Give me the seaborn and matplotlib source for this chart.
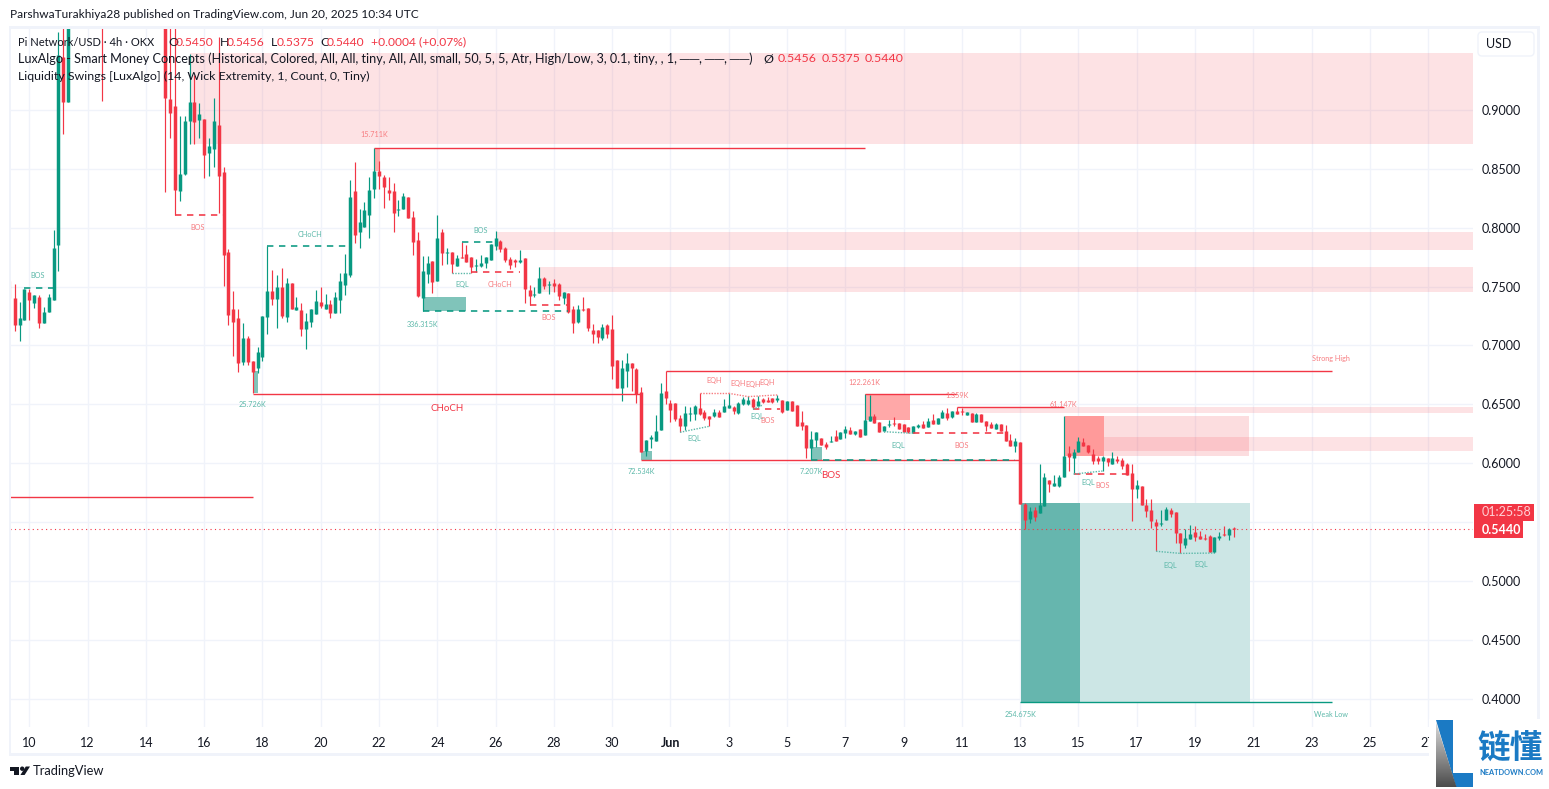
import numpy as np
import pandas as pd
import matplotlib
matplotlib.use('Agg')
import matplotlib.pyplot as plt
from matplotlib.patches import Polygon, Rectangle, FancyBboxPatch, Circle
import seaborn as sns

W, H = 1549, 789
RED = '#f23645'
GREEN = '#089981'
RED_SOFT = '#f77c80'
GREEN_SOFT = '#5cb8a9'
TXT = '#131722'

# 4h candles, bar number counted from May 10 00:00 (bars above the visible range are left out)
bars = list(range(-3, 9)) + [15] + list(range(28, 249))

opens = [.740, .717, .722, .745, .736, .741, .719, .728, .739, .785, .945, .907, 1.02,
         1.0, .9094, .9034, .8315, .8457, .8907, .9068, .8915, .8921, .8632,
         .8669, .8873, .8474, .7793, .7309, .7233, .6859, .7063, .6868, .6808,
         .6902, .7241, .7462, .7394, .7496, .7241, .753, .73, .73, .7139,
         .7199, .7267, .7369, .7309, .7352, .7275, .7386, .7513, .7598, .8312,
         .7963, .8006, .8108, .8329, .8482, .8431, .832, .8312, .815, .8159,
         .8261, .8091, .7895, .7403, .7607, .7717, .7547, .7963, .7785, .7793,
         .7675, .775, .7776, .775, .7675, .7675, .77, .7725, .7844, .7887,
         .7827, .7734, .7725, .7708, .7742, .747, .7428, .7445, .7573, .7513,
         .753, .7522, .7403, .7445, .7309, .7199, .7309, .7318, .7131, .7131,
         .7063, .7173, .7139, .6876, .6638, .6782, .685, .6799, .6604, .6103,
         .6205, .6188, .6281, .6613, .6511, .6511, .6383, .6315, .6417, .6417,
         .6468, .6434, .64, .64, .6434, .6434, .6468, .6477, .6426, .6502,
         .6502, .6545, .6485, .6545, .6536, .6553, .6536, .6536, .6451, .6528,
         .6494, .6349, .6324, .6128, .6196, .6213, .6162, .6179, .623, .6205,
         .6256, .6281, .6247, .629, .6239, .6358, .64, .6349, .6273, .6324,
         .6341, .6341, .6332, .6307, .6256, .6307, .6332, .6307, .6366, .6332,
         .6383, .6426, .6392, .6443, .6443, .6409, .6426, .6349, .6417, .6358,
         .6332, .629, .6332, .6273, .6196, .6145, .6179, .5652, .5525, .5601,
         .5576, .5635, .5856, .5805, .5805, .5882, .6086, .6043, .6094, .6179,
         .6154, .6077, .6043, .6018, .6043, .5992, .6035, .6026, .5992, .5916,
         .578, .5805, .5644, .5601, .55, .5483, .5517, .5601, .5584, .5406,
         .5304, .5355, .5415, .5381, .5364, .5381, .5245, .5364, .5398, .5389, .545]

highs = [.752, .737, .748, .748, .743, .743, .733, .744, .798, .966, 1.0, 1.05, 1.05,
         1.02, 1.0, .98, .8949, .895, .948, .93, .9057, .8921, .8765,
         .9102, .9618, .8519, .7819, .7462, .7309, .719, .708, .6868, .6987,
         .725, .7844, .764, .7598, .7657, .7572, .753, .7411, .736, .7275,
         .7309, .7471, .7496, .7437, .7386, .7454, .7612, .7774, .8405, .8558,
         .8159, .8218, .8431, .8674, .8567, .8448, .8431, .838, .8235, .8295,
         .8261, .8142, .7963, .7759, .7759, .7717, .8108, .7989, .7827, .7793,
         .7768, .7878, .7853, .775, .7734, .7768, .775, .7861, .7972, .7895,
         .7836, .775, .7734, .781, .7742, .7513, .7496, .7666, .7581, .7547,
         .7564, .753, .7454, .7445, .7335, .7343, .7411, .7318, .7182, .7131,
         .7182, .7182, .7258, .6876, .6876, .6935, .685, .6808, .6646, .6196,
         .6239, .6409, .6678, .6785, .6536, .6511, .6409, .6485, .6477, .6494,
         .6593, .6451, .64, .646, .6451, .6545, .6593, .6485, .6519, .6562,
         .657, .6553, .657, .6553, .6562, .6553, .6579, .6536, .6528, .6528,
         .6494, .6443, .6324, .6273, .6264, .6213, .6179, .623, .6281, .6264,
         .6315, .6307, .6273, .629, .6587, .6579, .6417, .6349, .6315, .6366,
         .6392, .6341, .6332, .6307, .6315, .6332, .6358, .6383, .6417, .6383,
         .6451, .6468, .6443, .6477, .6468, .6434, .6426, .6426, .6417, .6358,
         .635, .634, .6332, .6324, .6247, .6213, .6179, .5658, .5627, .5627,
         .5992, .5916, .5856, .5899, .5895, .64, .6145, .612, .6222, .6213,
         .6154, .612, .606, .606, .6043, .6094, .6060, .6043, .5999, .5992,
         .5856, .5805, .5695, .5695, .5525, .5601, .5627, .5618, .5584, .5406,
         .544, .5474, .5466, .5423, .5398, .539, .5372, .5415, .5466, .5449, .5456]

lows = [.712, .704, .722, .722, .732, .715, .719, .728, .739, .763, .880, .907, .908,
        .830, .8765, .8108, .8227, .845, .871, .871, .8765, .8426, .8443,
        .8519, .8123, .7505, .7173, .691, .6774, .6834, .6834, .6593, .6763,
        .6868, .7097, .7343, .7148, .7233, .7199, .7309, .73, .708, .697,
        .7156, .7267, .7318, .7309, .7233, .7275, .7278, .7428, .7584, .7867,
        .7827, .8006, .7912, .8252, .8329, .8167, .8235, .7963, .8099, .8159,
        .8082, .7768, .7411, .7292, .753, .7445, .7547, .7683, .7692, .7612,
        .7675, .7742, .7708, .7618, .7624, .7666, .7658, .7725, .781, .7793,
        .7708, .7649, .7666, .77, .736, .7343, .7411, .7445, .7479, .7437,
        .7454, .7386, .7352, .7275, .7105, .719, .7292, .7122, .702, .702,
        .7046, .7063, .6714, .6638, .6528, .6646, .6612, .651, .6094, .606,
        .6128, .6188, .6281, .6502, .6352, .6358, .6264, .6281, .6358, .6366,
        .6406, .6366, .6315, .6392, .6392, .6434, .6468, .6417, .6417, .6494,
        .6494, .6457, .6477, .6511, .6519, .6511, .6519, .6427, .6451, .6443,
        .6315, .6281, .6043, .6026, .6137, .6154, .612, .6179, .6188, .6205,
        .6213, .6247, .6239, .6222, .6239, .6358, .6341, .6264, .6264, .6307,
        .6315, .629, .6264, .6256, .6256, .6298, .6298, .6307, .6332, .6332,
        .6383, .6366, .6383, .6417, .6409, .6409, .6349, .6349, .6349, .6273,
        .6298, .629, .6273, .6188, .6145, .6094, .5652, .5437, .5491, .5508,
        .5576, .5635, .5754, .5805, .5797, .5882, .5933, .5907, .6094, .6145,
        .6086, .5992, .5992, .5933, .5975, .5992, .6001, .595, .5899, .5508,
        .5703, .5644, .5542, .5449, .5253, .5466, .5517, .5542, .5321, .5236,
        .5279, .5355, .5338, .5355, .5347, .5245, .5234, .5347, .5381, .5347, .5375]

closes = [.717, .723, .748, .739, .743, .719, .728, .741, .783, .947, .907, 1.02, 1.0,
          .910, .8972, .8321, .8457, .8907, .9068, .8898, .8967, .8618, .8695,
          .8907, .8443, .7768, .7258, .7199, .6851, .7063, .6859, .6774, .6944,
          .725, .7462, .7394, .7496, .725, .753, .7309, .7326, .7139, .7207,
          .7309, .7377, .7335, .7352, .7275, .7411, .7547, .7612, .8261, .7938,
          .8048, .815, .832, .8482, .8439, .8346, .8295, .8125, .8159, .8269,
          .8082, .7878, .742, .7632, .77, .7539, .7912, .7785, .7793, .7692,
          .7742, .7742, .7708, .7666, .7683, .77, .775, .7861, .7912, .7819,
          .7725, .7683, .7708, .7725, .7479, .742, .7437, .7573, .7505, .7522,
          .7505, .742, .7454, .7284, .719, .7309, .73, .7148, .7097, .7071,
          .7156, .7097, .6825, .6638, .6808, .685, .6808, .6587, .6094, .6196,
          .6222, .6273, .6599, .6553, .6451, .6375, .6315, .6426, .6426, .6485,
          .6417, .6383, .6375, .6434, .6392, .6485, .6494, .6443, .6511, .6545,
          .6536, .6477, .6528, .6519, .6519, .6519, .6553, .6434, .6528, .6443,
          .6315, .6315, .6128, .6205, .6264, .6154, .6137, .6188, .6188, .6264,
          .629, .6247, .6273, .6222, .6366, .64, .6341, .6264, .6315, .6332,
          .6332, .629, .6264, .6264, .6315, .6324, .6298, .6358, .6332, .6383,
          .6434, .6383, .6443, .6417, .6434, .6434, .6349, .6417, .6349, .6315,
          .6298, .6332, .6273, .6188, .6145, .6188, .5652, .5517, .5593, .5542,
          .5644, .5882, .5822, .583, .5882, .606, .6052, .6094, .6188, .6145,
          .6094, .6018, .6018, .6052, .6009, .6043, .6018, .5975, .5899, .578,
          .5814, .5644, .5593, .5508, .5466, .5491, .561, .5568, .5406, .5321,
          .5364, .5398, .5372, .5355, .5355, .5245, .5372, .5381, .5389, .544, .544]

# shaded zones: start bar, end bar, low, high, colour (translucent ones let the grid show)
PINK = '#f2364524'
zone_start = [33, 96.3, 105, 192, 221.3, 213.2, 221.3, 172, 71.2, 46, 81.1, 126, 161, 204.1, 216.3]
zone_end = [297.3, 297.3, 297.3, 297.3, 297.3, 221.3, 251.2, 181.3, 72.2, 47, 90, 128.2, 163.2, 216.3, 251.3]
zone_low = [.8712, .7811, .7454, .6425, .6105, .606, .606, .6366, .8485, .6593, .7292, .6026, .6026, .397, .397]
zone_high = [.9484, .7964, .7666, .6475, .6222, .6397, .6397, .6587, .8675, .6783, .7411, .6103, .6137, .566, .566]
zone_color = [PINK, PINK, PINK, PINK, PINK, '#ff9a9a', '#f236452b', '#ffa8a8',
              '#ffa8a8', '#80c4ba', '#80c4ba', '#80c4ba', '#80c4ba', '#66b6ae', '#cce6e5']

# solid swing lines
solid_start = [71, 172, 191.1, 131.1, 46, 126, 204, -3.9]
solid_end = [172, 191.1, 213, 268.2, 125.7, 204, 268.2, 46]
solid_price = [.8674, .6587, .6474, .6783, .6591, .6023, .397, .5708]
solid_color = [RED, RED, RED, RED, RED, RED, GREEN, RED]

# dashed structure lines
dash_start = [-1, 30, 49, 81, 89, 91, 103, 149, 182, 215, 161]
dash_end = [5, 40, 66, 111, 96, 101, 111, 154.6, 201, 226, 203]
dash_price = [.7485, .8108, .7844, .7292, .7876, .7621, .734, .6457, .6253, .5905, .6030]
dash_color = [GREEN, RED, GREEN, GREEN, GREEN, RED, RED, RED, RED, RED, GREEN]

# dotted equal high / low segments
dot_x0 = [87, 134, 149, 176, 215, 232, 237, 138, 144, 148]
dot_x1 = [91, 140, 151, 182, 221, 237, 244, 144, 148, 154]
dot_y0 = [.7618, .6262, .6457, .6267, .5907, .5251, .5233, .6593, .6593, .6565]
dot_y1 = [.7618, .6313, .6494, .6253, .5933, .5233, .5236, .6593, .6565, .6579]
dot_color = [GREEN_SOFT] * 7 + [RED_SOFT] * 3

# small chart labels
label_text = ['BOS', 'BOS', 'CHoCH', '15.711K', '25.726K', '336.315K', 'BOS', 'EQL', 'CHoCH', 'BOS',
              '72.534K', 'EQH', 'EQH', 'EQH', 'EQH', 'EQL', 'EQL', 'BOS', '7.207K', '122.261K',
              '1.359K', 'EQL', 'BOS', '61.147K', 'EQL', 'BOS', '254.675K', 'EQL', 'EQL', 'Strong High', 'Weak Low']
label_bar = [1.8, 34.7, 57.8, 71, 45.9, 80.9, 93, 89.1, 96.9, 107,
             126, 141, 146, 149.1, 152, 137, 149.9, 152, 161, 172,
             191.1, 179, 192, 213, 218.1, 221, 204, 235, 241.2, 268, 268]
label_price = [.759, .8006, .7946, .8788, .6502, .7182, .798, .7519, .7519, .7239,
               .5933, .67, .6678, .6669, .6686, .6211, .6398, .636, .5927, .6686,
               .6576, .6148, .6148, .6496, .5837, .5811, .386, .5132, .514, .6893, .386]
label_side = ['g', 'r', 'g', 'r', 'g', 'g', 'g', 'g', 'r', 'r',
              'g', 'r', 'r', 'r', 'r', 'g', 'g', 'r', 'g', 'r',
              'r', 'g', 'r', 'r', 'g', 'r', 'g', 'g', 'g', 'r', 'g']
big_text = ['CHoCH', 'BOS']
big_bar = [86, 165]
big_price = [.6468, .5893]

x_labels = ['10', '12', '14', '16', '18', '20', '22', '24', '26', '28', '30', 'Jun',
            '3', '5', '7', '9', '11', '13', '15', '17', '19', '21', '23', '25', '27']
y_ticks = [.40, .45, .50, .55, .60, .65, .70, .75, .80, .85, .90]
y_labels = ['0.4000', '0.4500', '0.5000', '', '0.6000', '0.6500', '0.7000', '0.7500', '0.8000', '0.8500', '0.9000']
last_price = .5440

df = pd.DataFrame({'bar': bars, 'open': opens, 'high': highs, 'low': lows, 'close': closes})
df['side'] = np.where(df['close'] >= df['open'], 'up', 'down')

sns.set_theme(style='whitegrid', rc={'grid.color': '#f0f3fa', 'grid.linewidth': 1.0,
                                     'lines.solid_capstyle': 'butt'})
plt.rcParams['font.family'] = ['Lato', 'DejaVu Sans']

fig = plt.figure(figsize=(W / 100, H / 100), dpi=100, facecolor='white')
ax = fig.add_axes([10 / W, 1 - 727 / H, 1463 / W, 699 / H])
ax.set_facecolor('white')
ax.set_axisbelow(True)

for x0, x1, lo, hi, col in zip(zone_start, zone_end, zone_low, zone_high, zone_color):
    ax.fill_between([x0, x1], lo, hi, color=col, lw=0, zorder=1)

palette = {'up': GREEN, 'down': RED}
wicks = df.melt(id_vars=['bar', 'side'], value_vars=['high', 'low'], value_name='price')
sns.lineplot(data=wicks, x='bar', y='price', units='bar', hue='side', palette=palette, estimator=None,
             linewidth=0.85, legend=False, ax=ax, zorder=3)
bodies = df.melt(id_vars=['bar', 'side'], value_vars=['open', 'close'], value_name='price')
sns.lineplot(data=bodies, x='bar', y='price', units='bar', hue='side', palette=palette, estimator=None,
             linewidth=2.5, legend=False, ax=ax, zorder=3)

ax.hlines(solid_price, solid_start, solid_end, colors=solid_color, lw=1.0, zorder=4)
ax.hlines(dash_price, dash_start, dash_end, colors=dash_color, lw=1.15, linestyles=(0, (4, 3.5)), zorder=4)
ax.vlines(-3.9, .74, .7547, color=RED_SOFT, lw=0.85, zorder=4)
for x0, x1, y0, y1, col in zip(dot_x0, dot_x1, dot_y0, dot_y1, dot_color):
    ax.plot([x0, x1], [y0, y1], color=col, lw=1.0, ls=(0, (1, 1)), zorder=4)
ax.axhline(last_price, color=RED, lw=0.8, ls=(0, (1, 3)), zorder=2)

for t, b, p, s in zip(label_text, label_bar, label_price, label_side):
    ax.text(b, p, t, color=RED_SOFT if s == 'r' else GREEN_SOFT, fontsize=5.2, ha='center', va='center', zorder=5)
for t, b, p in zip(big_text, big_bar, big_price):
    ax.text(b, p, t, color=RED, fontsize=7, ha='center', va='center', zorder=5)

ax.set_xlim(-3.97, 297.25)
ax.set_ylim(.3758, .9697)
ax.set_xticks(range(0, 12 * len(x_labels), 12))
ax.set_xticklabels(x_labels)
ax.yaxis.tick_right()
ax.set_yticks(y_ticks)
ax.set_yticklabels(y_labels)
ax.tick_params(axis='x', length=0, pad=7, labelsize=9, labelcolor=TXT)
ax.tick_params(axis='y', length=0, pad=6.5, labelsize=9, labelcolor=TXT)
ax.get_xticklabels()[11].set_fontweight('bold')
ax.set_xlabel('')
ax.set_ylabel('')
sns.despine(ax=ax, left=True, bottom=True)


def put(x, y, s, color=TXT, size=9, **kw):
    fig.text(x / W, 1 - y / H, s, color=color, fontsize=size, va='center', zorder=5, **kw)


# pixel overlay for frame, price tag and logos
ov = fig.add_axes([0, 0, 1, 1], zorder=2)
ov.set_xlim(0, W)
ov.set_ylim(H, 0)
ov.axis('off')
ov.patch.set_alpha(0)
for r in [(9, 26, 1531, 2.5), (9, 26, 2.5, 729), (9, 753, 1531, 2.5), (1537.5, 26, 2.5, 729)]:
    ov.add_patch(Rectangle(r[:2], r[2], r[3], color='#f0f3fa', lw=0))
ov.add_patch(FancyBboxPatch((1478, 32), 56, 24, boxstyle='round,pad=0,rounding_size=4',
                            fc='white', ec='#f0f3fa', lw=1))
ov.add_patch(Rectangle((1474, 504), 60, 17, color=RED, lw=0))
ov.add_patch(Rectangle((1474, 521), 49, 17, color=RED, lw=0))

# TradingView mark
ov.add_patch(Polygon([(10, 766.5), (19.5, 766.5), (19.5, 775), (14.5, 775), (14.5, 771), (10, 771)], color=TXT, lw=0))
ov.add_patch(Circle((22.2, 768.7), 2.2, color=TXT, lw=0))
ov.add_patch(Polygon([(25.8, 766.5), (30, 766.5), (24.6, 775), (20.4, 775)], color=TXT, lw=0))

# site logo
ov.add_patch(Rectangle((1429, 719), 120, 70, color='white', lw=0))
ov.add_patch(Polygon([(1436, 720), (1453, 720), (1453, 773), (1473, 773), (1473, 787), (1456, 787)],
                     color='#1b7ac4', lw=0))
grad = ov.imshow(np.linspace(0.85, 0.3, 64)[:, None], cmap='gray', vmin=0, vmax=1, aspect='auto',
                 extent=(1436, 1457, 787, 722), zorder=3)
tri = Polygon([(1436, 722), (1456.5, 787), (1436, 787)], transform=ov.transData, fc='none', lw=0)
ov.add_patch(tri)
grad.set_clip_path(tri)
ov.set_xlim(0, W)
ov.set_ylim(H, 0)

put(10, 15, 'ParshwaTurakhiya28 published on TradingView.com, Jun 20, 2025 10:34 UTC', size=8.6)
put(18, 42, 'Pi Network/USD · 4h · OKX', size=8.0)
for x, s in zip([168, 220, 271, 320], 'OHLC'):
    put(x, 42, s, size=8.9)
for x, s in zip([176, 227, 277, 327, 371], ['0.5450', '0.5456', '0.5375', '0.5440', '+0.0004 (+0.07%)']):
    put(x, 42, s, color=RED, size=8.7)
put(18, 59, 'LuxAlgo - Smart Money Concepts (Historical, Colored, All, All, tiny, All, All, small, 50, 5, 5, '
            'Atr, High/Low, 3, 0.1, tiny, , 1, ──, ──, ──)', size=9.1)
put(763, 59, 'Ø', size=8.9)
for x, s in zip([778, 822, 865], ['0.5456', '0.5375', '0.5440']):
    put(x, 59, s, color=RED, size=8.9)
put(18, 76, 'Liquidity Swings [LuxAlgo] (14, Wick Extremity, 1, Count, 0, Tiny)', size=8.9)

put(1486, 44, 'USD', size=9)
put(1482, 512.5, '01:25:58', color='#ffd0d4', size=9)
put(1482, 529.5, '0.5440', color='white', size=9, fontweight='bold')
put(33, 771, 'TradingView', size=9.3)
put(1477, 748, '链懂', color='#1b7ac4', size=23.5, fontweight='bold', family=['Noto Sans CJK SC', 'DejaVu Sans'])
put(1479, 772.5, 'NEATDOWN.COM', color='#1b7ac4', size=5.3, fontweight='bold')

fig.savefig('out.png', dpi=100)
